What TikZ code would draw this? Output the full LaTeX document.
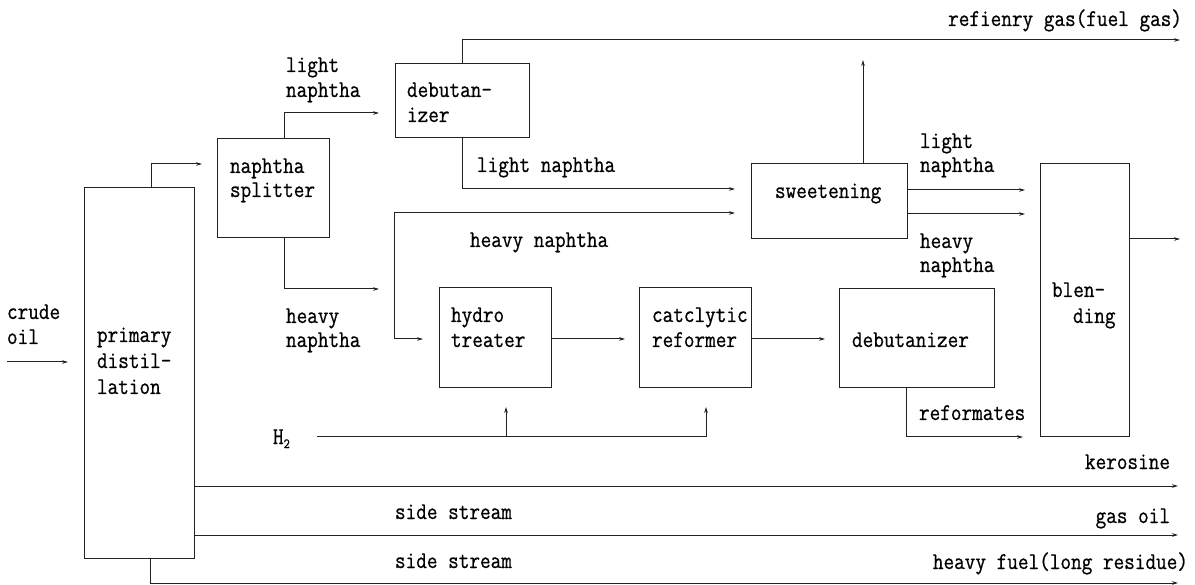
\documentclass[tikz,border=0pt]{standalone}
\usepackage{fontspec}
\usetikzlibrary{arrows.meta,calc}
\newfontfamily\reffont[FakeStretch=0.86,FakeBold=0.7]{Latin Modern Mono}
\definecolor{ink}{HTML}{222222}
\tikzset{
  unit/.style={draw=ink, line width=1pt, minimum width=#1, inner sep=0pt, outer sep=0pt},
  flow/.style={draw=ink, line width=1pt, -{Stealth[length=6pt,width=3.6pt]}},
  lbl/.style={inner sep=0pt, outer sep=0pt, text=black, font=\reffont\fontsize{24}{25}\selectfont, anchor=base west},
  lblr/.style={lbl, anchor=base east}
}
\begin{document}
\begin{tikzpicture}[x=1pt,y=-1pt]
\useasboundingbox[fill=white] (0,0) rectangle (1195,585);

% process units
\node[unit=110pt, minimum height=370pt] (PD)  at (139,373)   {};
\node[unit=112pt, minimum height=99pt]  (NS)  at (273,188.5) {};
\node[unit=134pt, minimum height=74pt]  (DB1) at (462,101)   {};
\node[unit=156pt, minimum height=75pt]  (SW)  at (829,201.5) {};
\node[unit=89pt,  minimum height=273pt] (BL)  at (1084.5,300.5) {};
\node[unit=112pt, minimum height=100pt] (HT)  at (495,338)   {};
\node[unit=112pt, minimum height=100pt] (CR)  at (695,338)   {};
\node[unit=155pt, minimum height=99pt]  (DB2) at (916.5,338.5) {};

% free ends of the streams
\coordinate (crudeS) at (7,362);
\coordinate (crudeE) at (68,362);
\coordinate (nsIn) at (202,164);
\coordinate (lnIn) at (379,113);
\coordinate (hnEnd) at (379,289);
\coordinate (hnJ) at (394,213);
\coordinate (swIn2) at (735,213);
\coordinate (htIn) at (423,339);
\coordinate (gasOut) at (1180,40);
\coordinate (swIn1) at (735,189);
\coordinate (swUp) at (863,60);
\coordinate (blIn1) at (1025,190);
\coordinate (blIn2) at (1025,214);
\coordinate (blOut) at (1180,239);
\coordinate (crIn) at (625,339);
\coordinate (dbIn) at (825,339);
\coordinate (refOut) at (1023,437);
\coordinate (h2S) at (317,437);
\coordinate (htH2) at (506,407);
\coordinate (crH2) at (706,407);
\coordinate (kerOut) at (1178,486);
\coordinate (goOut) at (1178,535);
\coordinate (fuelOut) at (1178,583);

% streams
\draw[flow] (crudeS) -- (crudeE);
\draw[flow] ($(PD.north)+(12,0)$) |- (nsIn);
\draw[flow] ($(NS.north)+(11,0)$) |- (lnIn);
\draw[flow] ($(NS.south)+(11,0)$) |- (hnEnd);
\draw[flow] (hnJ) -- (swIn2);
\draw[flow] (hnJ) |- (htIn);
\draw[flow] (DB1.north) |- (gasOut);
\draw[flow] (DB1.south) |- (swIn1);
\draw[flow] ($(SW.north)+(34,0)$) -- (swUp);
\draw[flow] (SW.east |- blIn1) -- (blIn1);
\draw[flow] (SW.east |- blIn2) -- (blIn2);
\draw[flow] (BL.east |- blOut) -- (blOut);
\draw[flow] (HT.east |- crIn) -- (crIn);
\draw[flow] (CR.east |- dbIn) -- (dbIn);
\draw[flow] ($(DB2.south)+(-10.5,0)$) |- (refOut);
\draw[flow] (h2S) -| (crH2);
\draw[flow] (h2S -| htH2) -- (htH2);
\draw[flow] (PD.east |- kerOut) -- (kerOut);
\draw[flow] (PD.east |- goOut) -- (goOut);
\draw[flow] ($(PD.south)+(11,0)$) |- (fuelOut);

% unit names
\node[lbl] (tPD1) at (97,342) {primary};
\node[lbl] (tPD2) at (97,368) {distil-};
\node[lbl] (tPD3) at (97,394) {lation};
\node[lbl] (tNS1) at (230,173) {naphtha};
\node[lbl] (tNS2) at (230,197) {splitter};
\node[lbl] (tDB1a) at (407,97) {debutan-};
\node[lbl] (tDB1b) at (407,122) {izer};
\node[lbl] (tSW) at (775,198) {sweetening};
\node[lbl] (tBL1) at (1052,297) {blen-};
\node[lbl] (tBL2) at (1073,323) {ding};
\node[lbl] (tHT1) at (451,322) {hydro};
\node[lbl] (tHT2) at (451,347) {treater};
\node[lbl] (tCR1) at (652,322) {catclytic};
\node[lbl] (tCR2) at (652,347) {reformer};
\node[lbl] (tDB2) at (852,347) {debutanizer};

% stream names
\node[lbl] (tCr1) at (7,319) {crude};
\node[lbl] (tCr2) at (7,344) {oil};
\node[lbl] (tLN1) at (286,72) {light};
\node[lbl] (tLN2) at (286,97) {naphtha};
\node[lbl] (tHN1) at (286,323) {heavy};
\node[lbl] (tHN2) at (286,347) {naphtha};
\node[lbl] (tLN3) at (477,172) {light naphtha};
\node[lbl] (tHN3) at (470,247) {heavy naphtha};
\node[lbl] (tLN4) at (920,148) {light};
\node[lbl] (tLN5) at (920,172) {naphtha};
\node[lbl] (tHN4) at (920,248) {heavy};
\node[lbl] (tHN5) at (920,272) {naphtha};
\node[lbl] (tRef) at (919,420) {reformates};
\node[lbl] (tH2) at (273,444) {H\raisebox{-4pt}{\fontsize{14}{14}\selectfont 2}};
\node[lblr] (tGas) at (1182,26) {refienry gas(fuel gas)};
\node[lblr] (tKer) at (1170,469) {kerosine};
\node[lblr] (tGO) at (1170,523) {gas oil};
\node[lblr] (tFuel) at (1188,569) {heavy fuel(long residue)};
\node[lbl] (tSS1) at (395,519) {side stream};
\node[lbl] (tSS2) at (395,568) {side stream};
\end{tikzpicture}
\end{document}
